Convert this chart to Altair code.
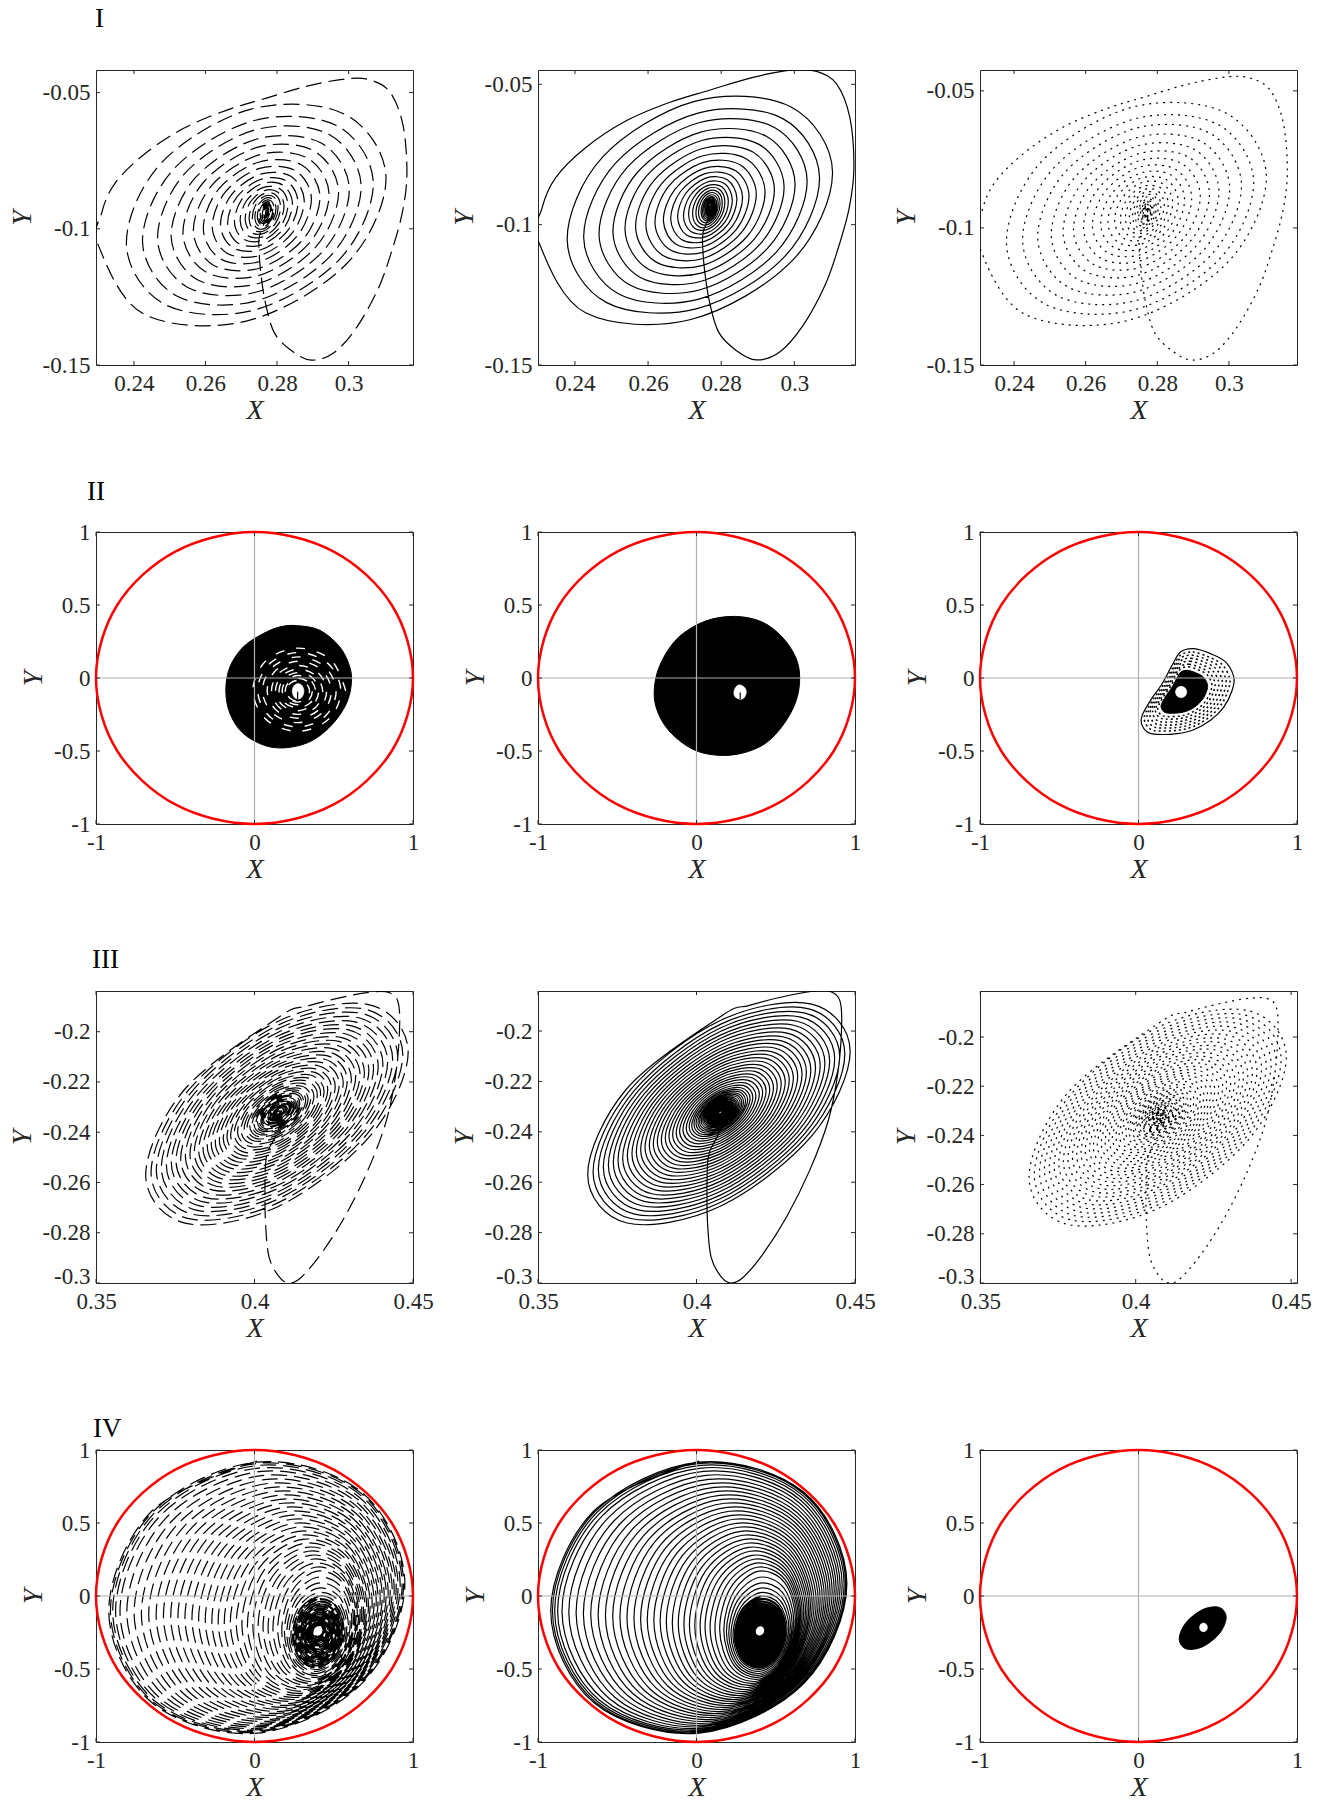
import altair as alt
import pandas as pd

FONT = "Liberation Serif"
INK = "#262626"
W = 317
ROW_H = [295, 292, 292, 292]

# ---------------- values ----------------
# Row I : tail of the trajectory (start near the focus, big first excursion)
I_TAIL_X = [0.2769, 0.2763, 0.2751, 0.2749, 0.2754, 0.2768, 0.2793, 0.2841, 0.2896, 0.2960, 0.3024,
            0.3084, 0.3120, 0.3150, 0.3163, 0.3152, 0.3116, 0.3061, 0.2997, 0.2887, 0.2768, 0.2658,
            0.2539, 0.2429, 0.2347, 0.2310]
I_TAIL_Y = [-0.0931, -0.0983, -0.1025, -0.1060, -0.1156, -0.1275, -0.1383, -0.1448, -0.1482, -0.1454,
            -0.1359, -0.1216, -0.1084, -0.0941, -0.0798, -0.0619, -0.0499, -0.0454, -0.0449, -0.0475,
            -0.0521, -0.0565, -0.0631, -0.0726, -0.0833, -0.0941]
# Row I : extremes of each revolution of the spiral
I_LEFT = [0.2301, 0.2379, 0.2424, 0.2466, 0.2504, 0.2537, 0.2566, 0.2594, 0.2619, 0.2642, 0.2662, 0.2681,
          0.2697, 0.2711, 0.2722, 0.2731, 0.2738, 0.2745, 0.2749, 0.2753, 0.2757, 0.2759, 0.2761, 0.2763, 0.2765]
I_RIGHT = [0.3123, 0.3086, 0.3052, 0.3018, 0.2986, 0.2958, 0.2933, 0.2907, 0.2885, 0.2867, 0.2850, 0.2836,
           0.2825, 0.2814, 0.2806, 0.2800, 0.2794, 0.2790, 0.2786, 0.2783, 0.2781, 0.2778, 0.2776, 0.2774, 0.2772]
I_TOP = [-0.0493, -0.0559, -0.0595, -0.0630, -0.0666, -0.0696, -0.0726, -0.0752, -0.0776, -0.0798, -0.0817,
         -0.0833, -0.0848, -0.0860, -0.0870, -0.0880, -0.0888, -0.0896, -0.0902, -0.0906, -0.0911, -0.0915,
         -0.0918, -0.0921, -0.0923]
I_BOTTOM = [-0.1368, -0.1325, -0.1290, -0.1254, -0.1222, -0.1190, -0.1161, -0.1135, -0.1111, -0.1088, -0.1069,
            -0.1051, -0.1037, -0.1023, -0.1013, -0.1003, -0.0995, -0.0987, -0.0982, -0.0976, -0.0971, -0.0966,
            -0.0962, -0.0959, -0.0955]
# normalised outline of one revolution (tilted ellipse), starting at the left side
I_U = [-1.0, -0.707, 0.0, 0.707, 1.0, 0.707, 0.0, -0.707]
I_V = [-0.30, -0.887, -0.954, -0.462, 0.30, 0.887, 0.954, 0.462]

# Row III : tail and revolutions (centre + half sizes)
III_TAIL_X = [0.4088, 0.4070, 0.4043, 0.4035, 0.4033, 0.4035, 0.4046, 0.4078, 0.4109, 0.4146, 0.4210,
              0.4284, 0.4357, 0.4416, 0.4447, 0.4458, 0.4452, 0.4426, 0.4379, 0.4294, 0.4167]
III_TAIL_Y = [-0.2325, -0.2407, -0.2473, -0.2526, -0.2632, -0.2765, -0.2897, -0.2976, -0.3000, -0.2979,
              -0.2884, -0.2738, -0.2553, -0.2354, -0.2156, -0.1971, -0.1878, -0.1845, -0.1841, -0.1858, -0.1898]
III_CX = 0.4075
III_CY = -0.2323
III_HW = [0.04224, 0.04055, 0.03886, 0.03728, 0.03569, 0.03411, 0.03263, 0.03115, 0.02967, 0.02820,
          0.02682, 0.02545, 0.02408, 0.02270, 0.02144, 0.02017, 0.01890, 0.01764, 0.01647, 0.01531,
          0.01415, 0.01309, 0.01204, 0.01098, 0.01003, 0.00919, 0.00845, 0.00781, 0.00718, 0.00665,
          0.00612, 0.00560, 0.00517, 0.00475, 0.00433, 0.00401, 0.00370, 0.00338, 0.00306, 0.00275,
          0.00243, 0.00222, 0.00201, 0.00180, 0.00158, 0.00137, 0.00116, 0.00095, 0.00074, 0.00053]
III_HH = [0.04551, 0.04369, 0.04187, 0.04016, 0.03846, 0.03675, 0.03516, 0.03357, 0.03197, 0.03038,
          0.02890, 0.02742, 0.02594, 0.02446, 0.02310, 0.02173, 0.02037, 0.01900, 0.01775, 0.01650,
          0.01525, 0.01411, 0.01297, 0.01183, 0.01081, 0.00990, 0.00910, 0.00842, 0.00774, 0.00717,
          0.00660, 0.00603, 0.00558, 0.00512, 0.00466, 0.00432, 0.00398, 0.00364, 0.00330, 0.00296,
          0.00262, 0.00239, 0.00216, 0.00193, 0.00171, 0.00148, 0.00125, 0.00102, 0.00080, 0.00057]
III_U = [0.0, -0.707, -1.0, -0.707, 0.0, 0.707, 1.0, 0.707]
III_V = [0.835, 0.201, -0.55, -0.979, -0.835, -0.201, 0.55, 0.979]

# Row IV : revolutions of the large spiral (extremes); the innermost ones form the dense core
IV_LEFT = [-0.922, -0.912, -0.899, -0.882, -0.859, -0.817, -0.771, -0.725, -0.679, -0.632, -0.586, -0.540,
           -0.494, -0.450, -0.405, -0.363, -0.321, -0.279, -0.239, -0.200, -0.162, -0.124, -0.088, -0.053,
           -0.019, 0.015, 0.046, 0.078, 0.109, 0.139, 0.168, 0.185, 0.200, 0.214, 0.227, 0.239, 0.252,
           0.263, 0.273, 0.284, 0.294, 0.303, 0.311, 0.319, 0.328, 0.334, 0.340, 0.347, 0.353, 0.357,
           0.361, 0.366]
IV_RIGHT = [0.954, 0.947, 0.939, 0.929, 0.916, 0.903, 0.891, 0.878, 0.866, 0.853, 0.840, 0.828, 0.815,
            0.803, 0.790, 0.777, 0.765, 0.752, 0.739, 0.727, 0.716, 0.706, 0.695, 0.685, 0.674, 0.664,
            0.655, 0.647, 0.639, 0.630, 0.622, 0.611, 0.601, 0.590, 0.580, 0.569, 0.559, 0.548, 0.538,
            0.529, 0.521, 0.513, 0.504, 0.496, 0.487, 0.479, 0.471, 0.462, 0.454, 0.447, 0.441, 0.435]
IV_TOP = [0.929, 0.922, 0.913, 0.899, 0.881, 0.858, 0.831, 0.803, 0.776, 0.748, 0.721, 0.693, 0.666,
          0.639, 0.611, 0.584, 0.556, 0.529, 0.501, 0.474, 0.446, 0.419, 0.391, 0.364, 0.336, 0.309,
          0.281, 0.254, 0.227, 0.199, 0.172, 0.130, 0.090, 0.055, 0.025, 0.000, -0.020, -0.038, -0.055,
          -0.070, -0.085, -0.099, -0.112, -0.125, -0.137, -0.149, -0.160, -0.170, -0.179, -0.187, -0.194, -0.200]
IV_BOTTOM = [-0.947, -0.941, -0.934, -0.924, -0.915, -0.904, -0.892, -0.881, -0.867, -0.854, -0.840,
             -0.826, -0.812, -0.799, -0.785, -0.771, -0.757, -0.744, -0.730, -0.716, -0.703, -0.689,
             -0.675, -0.661, -0.648, -0.634, -0.620, -0.606, -0.593, -0.579, -0.565, -0.551, -0.538,
             -0.524, -0.510, -0.497, -0.483, -0.469, -0.455, -0.442, -0.428, -0.414, -0.400, -0.387,
             -0.373, -0.359, -0.346, -0.332, -0.318, -0.304, -0.291, -0.279]
IV_CORE_START = 35
IV_U = [0.0, -0.707, -1.0, -0.707, 0.0, 0.707, 1.0, 0.707]
IV_V = [0.995, 0.633, -0.10, -0.774, -0.995, -0.633, 0.10, 0.774]

# Row II : outlines of the dense regions
II1_X = [0.265, 0.412, 0.538, 0.601, 0.611, 0.580, 0.496, 0.370, 0.223, 0.076, -0.071, -0.155, -0.181,
         -0.155, -0.071, 0.055, 0.160]
II1_Y = [0.359, 0.327, 0.213, 0.076, -0.038, -0.174, -0.311, -0.425, -0.475, -0.466, -0.380, -0.243,
         -0.083, 0.076, 0.213, 0.304, 0.350]
II1_HOLE_X = [0.312, 0.300, 0.275, 0.250, 0.238, 0.250, 0.275, 0.300]
II1_HOLE_Y = [-0.090, -0.052, -0.038, -0.052, -0.090, -0.130, -0.145, -0.130]
II1_TICK_X = [0.272, 0.272]
II1_TICK_Y = [-0.147, -0.095]
STREAK_CX = 0.275
STREAK_CY = -0.088
STREAK_R = [0.30, 0.27, 0.24, 0.21, 0.18, 0.155, 0.13, 0.11, 0.09, 0.072]
CIRC_U = [1.0, 0.707, 0.0, -0.707, -1.0, -0.707, 0.0, 0.707]
CIRC_V = [0.0, 0.707, 1.0, 0.707, 0.0, -0.707, -1.0, -0.707]

II2_X = [0.246, 0.415, 0.541, 0.625, 0.651, 0.629, 0.552, 0.436, 0.288, 0.131, -0.027, -0.175, -0.255,
         -0.263, -0.217, -0.112, 0.057]
II2_Y = [0.422, 0.383, 0.280, 0.143, 0.006, -0.154, -0.314, -0.447, -0.515, -0.529, -0.486, -0.360,
         -0.200, -0.040, 0.120, 0.280, 0.390]
II2_HOLE_X = [0.274, 0.306, 0.314, 0.299, 0.272, 0.242, 0.236, 0.251]
II2_HOLE_Y = [-0.047, -0.068, -0.102, -0.137, -0.145, -0.127, -0.093, -0.059]
II2_TICK_X = [0.276, 0.276]
II2_TICK_Y = [-0.143, -0.100]

II3_X = [0.265, 0.349, 0.454, 0.549, 0.601, 0.591, 0.538, 0.454, 0.349, 0.244, 0.118, 0.055, 0.019,
         0.023, 0.076, 0.149, 0.212]
II3_Y = [0.178, 0.201, 0.167, 0.110, 0.007, -0.084, -0.199, -0.290, -0.354, -0.381, -0.386, -0.370,
         -0.313, -0.256, -0.153, -0.039, 0.087]
II3_CX = 0.269
II3_CY = -0.096
II3_SCALES = [0.92, 0.85, 0.78, 0.71, 0.64, 0.58]
II3_CORE = 0.5
II3_HOLE_X = [0.305, 0.294, 0.269, 0.244, 0.233, 0.244, 0.269, 0.294]
II3_HOLE_Y = [-0.096, -0.068, -0.057, -0.068, -0.096, -0.124, -0.135, -0.124]

IV3_X = [0.553, 0.510, 0.405, 0.300, 0.257, 0.300, 0.405, 0.510]
IV3_Y = [-0.147, -0.078, -0.093, -0.182, -0.294, -0.362, -0.347, -0.258]
IV3_HOLE_X = [0.435, 0.428, 0.410, 0.392, 0.385, 0.392, 0.410, 0.428]
IV3_HOLE_Y = [-0.215, -0.194, -0.185, -0.194, -0.215, -0.236, -0.245, -0.236]

CIRCLE_X = [1, 0.866, 0.5, 0, -0.5, -0.866, -1, -0.866, -0.5, 0, 0.5, 0.866]
CIRCLE_Y = [0, 0.5, 0.866, 1, 0.866, 0.5, 0, -0.5, -0.866, -1, -0.866, -0.5]

# axes
I_XT = [0.24, 0.26, 0.28, 0.3]
I_YT = [-0.15, -0.1, -0.05]
U_XT = [-1, 0, 1]
U_YT = [-1, -0.5, 0, 0.5, 1]
III_XT = [0.35, 0.4, 0.45]
III_YT = [-0.3, -0.28, -0.26, -0.24, -0.22, -0.2]

P_I1 = dict(xdom=[0.2294, 0.318], ydom=[-0.15, -0.0417], xt=I_XT, yt=I_YT)
P_I2 = dict(xdom=[0.2299, 0.3166], ydom=[-0.15, -0.0449], xt=I_XT, yt=I_YT)
P_I3 = dict(xdom=[0.2305, 0.319], ydom=[-0.15, -0.0424], xt=I_XT, yt=I_YT)
P_U = dict(xdom=[-1, 1], ydom=[-1, 1], xt=U_XT, yt=U_YT)
P_III1 = dict(xdom=[0.35, 0.45], ydom=[-0.3, -0.1838], xt=III_XT, yt=III_YT, lift=-0.3)
P_III2 = dict(xdom=[0.35, 0.45], ydom=[-0.3, -0.1841], xt=III_XT, yt=III_YT, lift=-0.3)
P_III3 = dict(xdom=[0.3499, 0.4519], ydom=[-0.3, -0.1813], xt=III_XT, yt=III_YT, lift=-0.3)

LBL = "replace(format(datum.value, '~g'), '\u2212', '-')"


# ---------------- helpers ----------------
def spiral(left, right, bottom, top, u, v):
    xs, ys = [], []
    m = min(len(left), len(right), len(bottom), len(top))
    n = len(u)
    for k in range(m):
        k2 = min(k + 1, m - 1)
        for j in range(n):
            f = j / n
            l = left[k] + (left[k2] - left[k]) * f
            r = right[k] + (right[k2] - right[k]) * f
            b = bottom[k] + (bottom[k2] - bottom[k]) * f
            t = top[k] + (top[k2] - top[k]) * f
            xs.append((l + r) / 2 + (r - l) / 2 * u[j])
            ys.append((b + t) / 2 + (t - b) / 2 * v[j])
    return xs, ys


AX_STYLE = dict(labelExpr=LBL, labelFont=FONT, labelFontSize=23, labelColor=INK,
                titleFont=FONT, titleFontSize=28, titleFontStyle="italic", titleFontWeight="normal",
                titleColor=INK, ticks=False, domain=False, grid=False, labelFlush=False,
                labelOverlap=False, labelBound=False)


def xy(P):
    xs = alt.Scale(domain=P["xdom"], nice=False, zero=False)
    ys = alt.Scale(domain=P["ydom"], nice=False, zero=False)
    xa = alt.Axis(values=P["xt"], title="X", labelPadding=7, titlePadding=1, **AX_STYLE)
    yextra = {}
    if "lift" in P:
        # lowest y label sits slightly higher so it clears the first x label
        yextra["labelBaseline"] = {"condition": {"test": "datum.value <= %g" % P["lift"],
                                                 "value": "alphabetic"}, "value": "middle"}
    ya = alt.Axis(values=P["yt"], title="Y", labelPadding=6, titlePadding=6, **AX_STYLE, **yextra)
    return alt.X("x:Q", scale=xs, axis=xa), alt.Y("y:Q", scale=ys, axis=ya)


def line(P, xs, ys, stroke="black", width=1.2, dash=None, fill=None, closed=False,
         group=None, clip=True):
    df = pd.DataFrame({"x": xs, "y": ys, "i": list(range(len(xs)))})
    if group is not None:
        df["g"] = group
    mk = dict(stroke=stroke, strokeWidth=width, clip=clip, strokeJoin="round",
              interpolate="cardinal-closed" if closed else "cardinal")
    if dash:
        mk["strokeDash"] = dash
    if fill:
        mk["fill"] = fill
    X, Y = xy(P)
    enc = dict(x=X, y=Y, order=alt.Order("i:Q"))
    if group is not None:
        enc["detail"] = alt.Detail("g:N")
    return alt.Chart(df).mark_line(**mk).encode(**enc)


def ticks(P, H):
    X, Y = xy(P)
    bx = alt.Chart(pd.DataFrame({"x": P["xt"]})).mark_rule(color=INK, strokeWidth=1)
    by = alt.Chart(pd.DataFrame({"y": P["yt"]})).mark_rule(color=INK, strokeWidth=1)
    return [
        bx.encode(x=X, y=alt.value(H), y2=alt.value(H - 4)),
        bx.encode(x=X, y=alt.value(0), y2=alt.value(4)),
        by.encode(y=Y, x=alt.value(0), x2=alt.value(4)),
        by.encode(y=Y, x=alt.value(W), x2=alt.value(W - 4)),
    ]


def cross(P):
    X, Y = xy(P)
    d = pd.DataFrame({"x": [0], "y": [0]})
    return [
        alt.Chart(d).mark_rule(color="#b0b0b0", strokeWidth=1.2).encode(x=X),
        alt.Chart(d).mark_rule(color="#b0b0b0", strokeWidth=1.2).encode(y=Y),
    ]


def circle(P):
    return line(P, CIRCLE_X, CIRCLE_Y, stroke="#ff0000", width=2.5, closed=True, clip=False)


def label(text, dx, dy):
    return alt.Chart(pd.DataFrame({"t": [text]})).mark_text(
        align="left", baseline="alphabetic", font=FONT, fontSize=27, color="black"
    ).encode(text="t:N", x=alt.value(dx), y=alt.value(dy))


def panel(layers, H):
    return alt.layer(*layers).properties(width=W, height=H)


# ---------------- trajectories ----------------
sx, sy = spiral(I_LEFT, I_RIGHT, I_BOTTOM, I_TOP, I_U, I_V)
I_X, I_Y = I_TAIL_X + sx, I_TAIL_Y + sy

III_L = [III_CX - h for h in III_HW]
III_R = [III_CX + h for h in III_HW]
III_B = [III_CY - h for h in III_HH]
III_T = [III_CY + h for h in III_HH]
sx, sy = spiral(III_L, III_R, III_B, III_T, III_U, III_V)
III_X, III_Y = III_TAIL_X + sx, III_TAIL_Y + sy

IV_X, IV_Y = spiral(IV_LEFT, IV_RIGHT, IV_BOTTOM, IV_TOP, IV_U, IV_V)
c = IV_CORE_START
IVC_X, IVC_Y = spiral(IV_LEFT[c:], IV_RIGHT[c:], IV_BOTTOM[c:], IV_TOP[c:], IV_U, IV_V)

ST_X, ST_Y = spiral([STREAK_CX - r for r in STREAK_R], [STREAK_CX + r for r in STREAK_R],
                    [STREAK_CY - r for r in STREAK_R], [STREAK_CY + r for r in STREAK_R],
                    CIRC_U, CIRC_V)

L3x, L3y, L3g = [], [], []
for k, s in enumerate(II3_SCALES):
    for px, py in zip(II3_X, II3_Y):
        L3x.append(II3_CX + s * (px - II3_CX))
        L3y.append(II3_CY + s * (py - II3_CY))
        L3g.append(k)
CORE3_X = [II3_CX + II3_CORE * (px - II3_CX) for px in II3_X]
CORE3_Y = [II3_CY + II3_CORE * (py - II3_CY) for py in II3_Y]

DASH = [16, 7]
DOT = [2, 5]

panels = []
# Row I
H = ROW_H[0]
panels.append(panel([line(P_I1, I_X, I_Y, dash=DASH), *ticks(P_I1, H), label("I", -1, -43)], H))
panels.append(panel([line(P_I2, I_X, I_Y), *ticks(P_I2, H)], H))
panels.append(panel([line(P_I3, I_X, I_Y, dash=DOT), *ticks(P_I3, H)], H))

# Row II
H = ROW_H[1]
panels.append(panel([
    line(P_U, II1_X, II1_Y, fill="black", closed=True, width=1),
    line(P_U, ST_X, ST_Y, stroke="white", width=1.4, dash=[9, 12]),
    line(P_U, II1_HOLE_X, II1_HOLE_Y, stroke="white", fill="white", closed=True, width=0.5),
    line(P_U, II1_TICK_X, II1_TICK_Y),
    *cross(P_U), circle(P_U), *ticks(P_U, H), label("II", -9, -32)], H))
panels.append(panel([
    line(P_U, II2_X, II2_Y, fill="black", closed=True, width=1),
    line(P_U, II2_HOLE_X, II2_HOLE_Y, stroke="white", fill="white", closed=True, width=0.5),
    line(P_U, II2_TICK_X, II2_TICK_Y),
    *cross(P_U), circle(P_U), *ticks(P_U, H)], H))
panels.append(panel([
    line(P_U, II3_X, II3_Y, closed=True, width=1.2),
    line(P_U, L3x, L3y, closed=True, width=1.5, dash=[2, 3], group=L3g),
    line(P_U, CORE3_X, CORE3_Y, fill="black", closed=True, width=1),
    line(P_U, II3_HOLE_X, II3_HOLE_Y, stroke="white", fill="white", closed=True, width=0.5),
    *cross(P_U), circle(P_U), *ticks(P_U, H)], H))

# Row III
H = ROW_H[2]
panels.append(panel([line(P_III1, III_X, III_Y, dash=DASH), *ticks(P_III1, H), label("III", -4, -23)], H))
panels.append(panel([line(P_III2, III_X, III_Y), *ticks(P_III2, H)], H))
panels.append(panel([line(P_III3, III_X, III_Y, dash=DOT), *ticks(P_III3, H)], H))

# Row IV
H = ROW_H[3]
panels.append(panel([line(P_U, IV_X, IV_Y, dash=DASH), line(P_U, IVC_X, IVC_Y, dash=[12, 4], width=2.0),
                     *cross(P_U), circle(P_U), *ticks(P_U, H), label("IV", -3, -13)], H))
panels.append(panel([line(P_U, IV_X, IV_Y), line(P_U, IVC_X, IVC_Y, width=2.3),
                     *cross(P_U), circle(P_U), *ticks(P_U, H)], H))
panels.append(panel([
    line(P_U, IV3_X, IV3_Y, fill="black", closed=True, width=1),
    line(P_U, IV3_HOLE_X, IV3_HOLE_Y, stroke="white", fill="white", closed=True, width=0.5),
    *cross(P_U), circle(P_U), *ticks(P_U, H)], H))

chart = alt.concat(
    *panels, columns=3, spacing={"row": 167, "column": 125}, bounds="flush", align="each"
).properties(
    autosize=alt.AutoSizeParams(type="none"),
    padding={"left": 96, "top": 70, "right": 1231, "bottom": 1732},
).configure_view(
    stroke=INK, strokeWidth=1
)

chart.save("out.html", embed_options={"renderer": "svg", "actions": False})
